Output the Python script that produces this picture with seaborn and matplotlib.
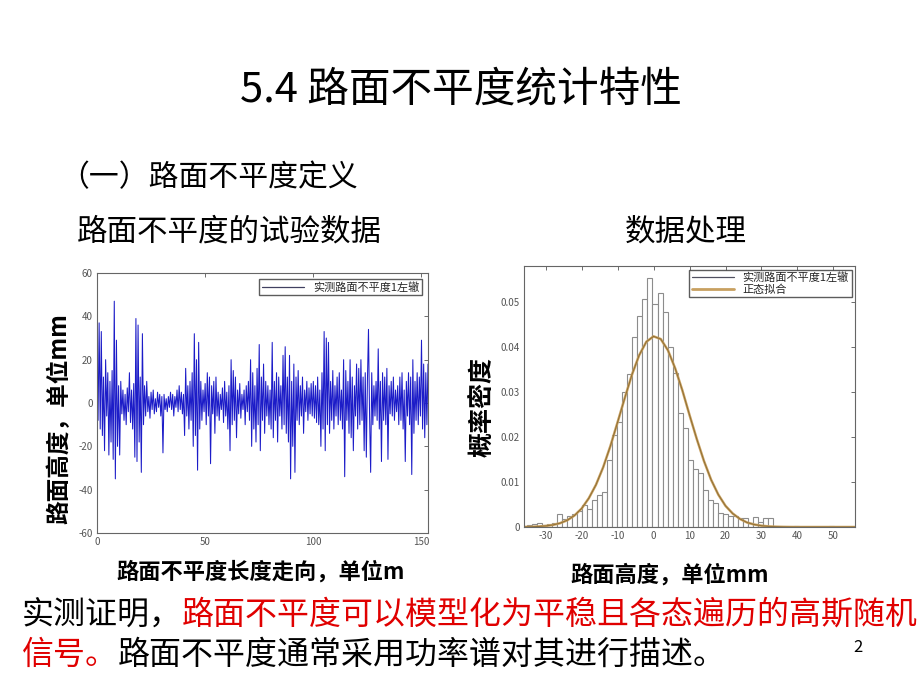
import numpy as np
import pandas as pd
import matplotlib
matplotlib.use("Agg")
import matplotlib.pyplot as plt
from matplotlib.lines import Line2D
import seaborn as sns

sns.set_style("white")
plt.rcParams['font.family'] = ['Noto Sans CJK SC', 'DejaVu Sans']
plt.rcParams['axes.unicode_minus'] = False

# ---------------- data ----------------
# road height samples (mm), every 0.5 m from 0 to 153 m
road_height = [
    5, -8, 37, -12, 33, -15, 12, -22, 20, -6, 14, -24, 10, -18, 15, -26, 47, -35, 29, -20,
    8, -24, 10, -5, 6, -8, 4, -10, 7, -4, 14, -9, 6, -12, 9, -25, 39, -27, 36, -18,
    12, -32, 32, -10, 8, -6, 10, -4, 3, -7, 5, -3, 6, -5, 2, -4, 5, -2, 4, -6,
    3, -23, 4, -3, 2, -4, 3, -2, 5, -3, 4, -6, 3, -2, 6, -4, 8, -3, 5, -5,
    4, -15, 16, -6, 8, -12, 10, -8, 14, -20, 32, -15, 20, -31, 28, -12, 10, -8, 6, -4,
    9, -10, 14, -6, 12, -28, 8, -5, 10, -14, 12, -6, 5, -8, 4, -3, 7, -9, 10, -6,
    5, -12, 8, -22, 20, -10, 15, -8, 12, -16, 6, -5, 9, -7, 4, -3, 6, -10, 8, -4,
    10, -8, 20, -20, 14, -12, 8, -18, 16, -10, 27, -22, 12, -8, 18, -14, 10, -6, 8, -10,
    6, -12, 28, -16, 10, -8, 14, -18, 12, -6, 8, -12, 22, -10, 26, -14, 12, -18, 22, -35,
    10, -20, 18, -32, 12, -8, 15, -10, 8, -6, 12, -14, 6, -4, 10, -8, 7, -5, 9, -6,
    10, -7, 8, -9, 12, -10, 6, -20, 14, -12, 33, -22, 30, -10, 28, -14, 10, -8, 15, -12,
    8, -6, 12, -10, 14, -8, 6, -12, 20, -34, 15, -8, 10, -14, 20, -16, 12, -22, 8, -6,
    18, -12, 16, -10, 20, -8, 12, -22, 14, -25, 10, 34, -6, -32, 14, -10, 8, -6, 10, -8,
    25, -12, 10, -27, 14, -8, 12, -10, 16, -26, 8, -5, 10, -6, 12, -8, 6, -4, 8, -10,
    12, -8, 14, -12, 6, -27, 10, -6, 14, -10, 12, -33, 20, -14, 10, -8, 14, -10, 12, -6,
    29, -12, 18, -16, 14, -10, 18,
]
distance_m = np.arange(len(road_height)) * 0.5

# histogram: bin centres (mm) and probability density
bin_centers = [
    -34.6, -33.2, -31.8, -30.4, -29.0, -27.6, -26.2, -24.8, -23.4, -22.0,
    -20.6, -19.2, -17.8, -16.4, -15.0, -13.6, -12.2, -10.8, -9.4, -8.0,
    -6.6, -5.2, -3.8, -2.4, -1.0, 0.4, 1.8, 3.2, 4.6, 6.0,
    7.4, 8.8, 10.2, 11.6, 13.0, 14.4, 15.8, 17.2, 18.6, 20.0,
    21.4, 22.8, 24.2, 25.6, 27.0, 28.4, 29.8, 31.2, 32.6, 34.0,
    35.4, 36.8, 38.2, 39.6, 41.0, 42.4, 43.8, 45.2, 46.6, 48.0, 49.4,
]
density = [
    0.0005, 0.0007, 0.0009, 0.0004, 0.0006, 0.0008, 0.0030, 0.0018, 0.0025, 0.0030,
    0.0036, 0.0049, 0.0040, 0.0060, 0.0071, 0.0078, 0.0149, 0.0204, 0.0234, 0.0300,
    0.0341, 0.0423, 0.0470, 0.0508, 0.0553, 0.0497, 0.0520, 0.0478, 0.0400, 0.0342,
    0.0253, 0.0220, 0.0149, 0.0130, 0.0120, 0.0082, 0.0060, 0.0053, 0.0031, 0.0028,
    0.0024, 0.0024, 0.0020, 0.0020, 0.0010, 0.0022, 0.0012, 0.0020, 0.0020, 0.0000,
    0.0000, 0.0000, 0.0000, 0.0002, 0.0000, 0.0000, 0.0000, 0.0000, 0.0000, 0.0000, 0.0002,
]

# normal fit curve
fit_x = [-36, -34, -32, -30, -28, -26, -24, -22, -20, -18, -16, -14, -12, -10, -8, -6, -4, -2,
         0, 2, 4, 6, 8, 10, 12, 14, 16, 18, 20, 22, 24, 26, 28, 30, 32, 34, 36, 38, 40,
         42, 44, 46, 48, 50, 52, 54, 56]
fit_y = [0.00002, 0.00005, 0.00012, 0.00024, 0.00046, 0.00085, 0.0015, 0.00255, 0.0041,
         0.0064, 0.0094, 0.0133, 0.0180, 0.0233, 0.0287, 0.0339, 0.0382, 0.0412,
         0.0424, 0.0418, 0.0393, 0.0353, 0.0304, 0.0249, 0.0196, 0.0147, 0.0105, 0.0072,
         0.0047, 0.0030, 0.0018, 0.0010, 0.00055, 0.00029, 0.00014, 0.00007, 0.00003,
         0.00001, 0.0, 0.0, 0.0, 0.0, 0.0, 0.0, 0.0, 0.0, 0.0]

left_xticks = [0, 50, 100, 150]
left_yticks = [-60, -40, -20, 0, 20, 40, 60]
right_xticks = [-30, -20, -10, 0, 10, 20, 30, 40, 50]
right_yticks = [0, 0.01, 0.02, 0.03, 0.04, 0.05]
right_yticklabels = ["0", "0.01", "0.02", "0.03", "0.04", "0.05"]

legend_measured = "实测路面不平度1左辙"
legend_fit = "正态拟合"

# ---------------- figure ----------------
fig = plt.figure(figsize=(9.2, 6.9), dpi=100)
fig.patch.set_facecolor("white")

ax1 = fig.add_axes([0.1054, 0.2275, 0.3598, 0.3768])
ax2 = fig.add_axes([0.5696, 0.2362, 0.3598, 0.378])

df1 = pd.DataFrame({"distance": distance_m, "height": road_height})
sns.lineplot(data=df1, x="distance", y="height", ax=ax1, estimator=None,
             color="#1c1cc8", linewidth=0.75, sort=False)
ax1.set_xlim(0, 153)
ax1.set_ylim(-60, 60)
ax1.set_xticks(left_xticks)
ax1.set_yticks(left_yticks)
ax1.set_xlabel("")
ax1.set_ylabel("")
ax1.legend(handles=[Line2D([], [], color="#404060", lw=0.9)], labels=[legend_measured],
           loc="upper right", fontsize=8, frameon=True, fancybox=False,
           edgecolor="#333333", borderpad=0.25, handlelength=3.8, borderaxespad=0.55)

df2 = pd.DataFrame({"center": bin_centers, "density": density})
sns.histplot(data=df2, x="center", weights="density", binwidth=1.4,
             binrange=(bin_centers[0] - 0.7, bin_centers[-1] + 0.7), stat="count",
             ax=ax2, color="white", edgecolor="#8c8c8c", linewidth=0.8, alpha=1.0)
df3 = pd.DataFrame({"x": fit_x, "y": fit_y})
sns.lineplot(data=df3, x="x", y="y", ax=ax2, color="#c8a060", linewidth=1.8)
sns.lineplot(data=df3, x="x", y="y", ax=ax2, color="#8a6a30", linewidth=0.6)
ax2.set_xlim(-36, 56)
ax2.set_ylim(0, 0.058)
ax2.set_xticks(right_xticks)
ax2.set_yticks(right_yticks)
ax2.set_yticklabels(right_yticklabels)
ax2.set_xlabel("")
ax2.set_ylabel("")
ax2.legend(handles=[Line2D([], [], color="#505060", lw=0.9),
                    Line2D([], [], color="#c8a060", lw=2.0)],
           labels=[legend_measured, legend_fit],
           loc="upper right", fontsize=8, frameon=True, fancybox=False,
           edgecolor="#333333", borderpad=0.25, handlelength=3.8, borderaxespad=0.3,
           labelspacing=0.1)

for ax in (ax1, ax2):
    ax.tick_params(direction="in", top=True, right=True, length=3, width=0.6,
                   colors="#555555", labelsize=7, pad=3)
    for s in ax.spines.values():
        s.set_color("#666666")
        s.set_linewidth(0.8)

# ---------------- slide texts ----------------
fig.text(0.501, 0.870, "5.4 路面不平度统计特性", ha="center", va="center",
         fontsize=30, color="black")
fig.text(0.064, 0.742, "（一）路面不平度定义", ha="left", va="center",
         fontsize=21.5, color="black")
fig.text(0.084, 0.664, "路面不平度的试验数据", ha="left", va="center",
         fontsize=22, color="black")
fig.text(0.745, 0.664, "数据处理", ha="center", va="center",
         fontsize=22, color="black")
fig.text(0.064, 0.394, "路面高度，单位mm", ha="center", va="center", rotation=90,
         fontsize=17, fontweight="bold", color="black")
fig.text(0.524, 0.41, "概率密度", ha="center", va="center", rotation=90,
         fontsize=18, fontweight="bold", color="black")
fig.text(0.283, 0.171, "路面不平度长度走向，单位m", ha="center", va="center",
         fontsize=16, fontweight="bold", color="black")
fig.text(0.728, 0.167, "路面高度，单位mm", ha="center", va="center",
         fontsize=16, fontweight="bold", color="black")

t1 = fig.text(0.024, 0.109, "实测证明，", ha="left", va="center", fontsize=23, color="black")
fig.canvas.draw()
bb = t1.get_window_extent()
x_next = bb.x1 / fig.bbox.width
fig.text(x_next, 0.109, "路面不平度可以模型化为平稳且各态遍历的高斯随机",
         ha="left", va="center", fontsize=23, color="#e00000")
t2 = fig.text(0.024, 0.051, "信号。", ha="left", va="center", fontsize=23, color="#e00000")
fig.canvas.draw()
bb2 = t2.get_window_extent()
fig.text(bb2.x1 / fig.bbox.width, 0.051, "路面不平度通常采用功率谱对其进行描述。",
         ha="left", va="center", fontsize=23, color="black")
fig.text(0.933, 0.061, "2", ha="center", va="center", fontsize=12, color="black")

fig.savefig("out.png", dpi=100, facecolor="white")
